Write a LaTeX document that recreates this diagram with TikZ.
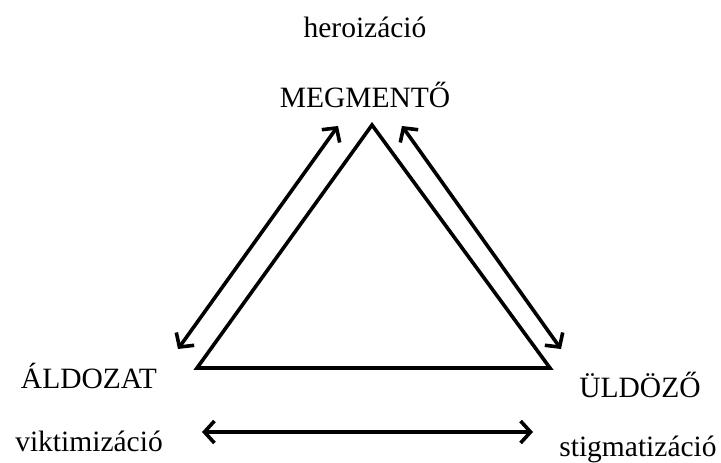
\documentclass[tikz,border=0pt]{standalone}
\usepackage{fontspec}
\setmainfont{Liberation Serif}
\usetikzlibrary{arrows.meta}
\begin{document}
\begin{tikzpicture}[x=1pt,y=-1pt,
  lbl/.style={font=\fontsize{29.5}{31}\selectfont, inner sep=0pt},
  tri/.style={line width=3.6pt, line join=miter},
  dbl/.style={line width=3.6pt, {Straight Barb[length=10pt,width=22pt,line width=3.6pt]}-{Straight Barb[length=10pt,width=22pt,line width=3.6pt]}}]
\useasboundingbox (0,0) rectangle (721,463);
\coordinate (top) at (372,125);
\coordinate (bl) at (197,368);
\coordinate (br) at (550,368);
\draw[tri] (top) -- (bl) -- (br) -- cycle;
\coordinate (la) at (178,349);
\coordinate (lb) at (338,126);
\coordinate (ra) at (402,126);
\coordinate (rb) at (561,349);
\coordinate (ba) at (202,432);
\coordinate (bb) at (533,432);
\draw[dbl] (la) -- (lb);
\draw[dbl] (ra) -- (rb);
\draw[dbl] (ba) -- (bb);
\node[lbl] (hero) at (365,27) {heroizáció};
\node[lbl] (megm) at (365,95) {MEGMENTŐ};
\node[lbl] (aldo) at (89,376) {ÁLDOZAT};
\node[lbl] (vikt) at (89,441) {viktimizáció};
\node[lbl] (uldo) at (640,385) {ÜLDÖZŐ};
\node[lbl] (stig) at (638,449) {stigmatizáció};
\end{tikzpicture}
\end{document}
